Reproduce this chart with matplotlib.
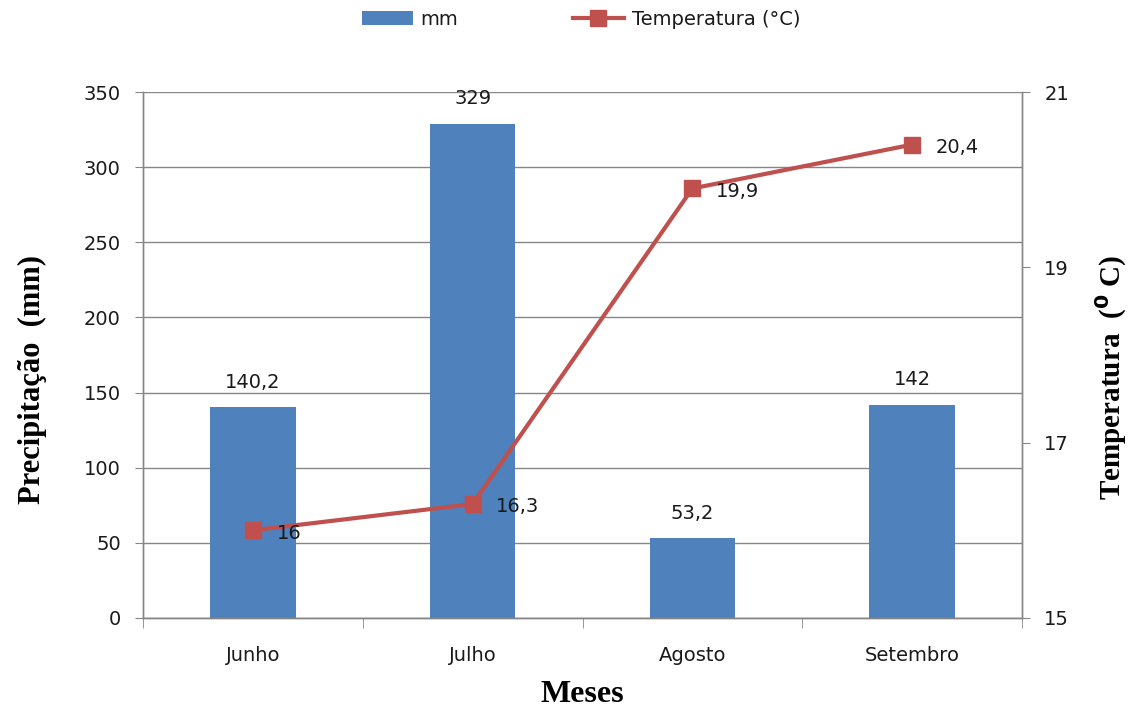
import matplotlib
matplotlib.use("Agg")
import matplotlib.pyplot as plt
from matplotlib.ticker import FixedLocator, NullFormatter
import numpy as np

months = ["Junho", "Julho", "Agosto", "Setembro"]
rain_mm = [140.2, 329, 53.2, 142]
temp_c = [16, 16.3, 19.9, 20.4]
rain_labels = ["140,2", "329", "53,2", "142"]
temp_labels = ["16", "16,3", "19,9", "20,4"]
left_ticks = [0, 50, 100, 150, 200, 250, 300, 350]
right_ticks = [15, 17, 19, 21]

bar_color = "#4F81BD"
line_color = "#C0504D"
axis_gray = "#868686"
text_color = "#1a1a1a"
sans = ["DejaVu Sans"]
serif = ["Liberation Serif", "DejaVu Serif"]
fs = 14

W, H = 1145, 715
fig = plt.figure(figsize=(W / 100, H / 100), dpi=100)
ax = fig.add_axes([0.1249, 0.1357, 0.8926 - 0.1249, 0.8713 - 0.1357])
ax2 = ax.twinx()

x = np.arange(len(months))
bars = ax.bar(x, rain_mm, width=0.39, color=bar_color, zorder=2, label="mm")
ax.set_xlim(-0.5, len(months) - 0.5)
ax.set_ylim(0, 350)
ax.set_yticks(left_ticks)
ax.set_yticklabels([str(v) for v in left_ticks], fontsize=fs, family=sans,
                   color=text_color)
ax.yaxis.grid(True, color=axis_gray, linewidth=1, zorder=0)
ax.set_axisbelow(True)

ax.set_xticks(x)
ax.set_xticklabels(months, fontsize=fs, family=sans, color=text_color)
ax.tick_params(axis="x", which="major", length=0, pad=20)
ax.xaxis.set_minor_locator(FixedLocator(np.arange(-0.5, len(months), 1.0)))
ax.xaxis.set_minor_formatter(NullFormatter())
ax.tick_params(axis="x", which="minor", length=7, color=axis_gray, direction="out")
ax.tick_params(axis="y", length=6, color=axis_gray, direction="out", pad=10)

for b, lab in zip(bars, rain_labels):
    ax.annotate(lab, (b.get_x() + b.get_width() / 2, b.get_height()),
                xytext=(0, 11), textcoords="offset points",
                ha="center", va="bottom", fontsize=fs, family=sans,
                color=text_color)

line, = ax2.plot(x, temp_c, color=line_color, linewidth=3, marker="s",
                 markersize=12, zorder=3, label="Temperatura (°C)")
ax2.set_ylim(15, 21)
ax2.set_yticks(right_ticks)
ax2.set_yticklabels([str(v) for v in right_ticks], fontsize=fs, family=sans,
                    color=text_color)
ax2.tick_params(axis="y", length=6, color=axis_gray, direction="out", pad=10)

for xi, yi, lab in zip(x, temp_c, temp_labels):
    ax2.annotate(lab, (xi, yi), xytext=(17, -2), textcoords="offset points",
                 ha="left", va="center", fontsize=fs, family=sans,
                 color=text_color)

for a in (ax, ax2):
    a.spines["top"].set_visible(False)
    for s in ("left", "right", "bottom"):
        a.spines[s].set_color(axis_gray)
        a.spines[s].set_linewidth(1)

# axis titles placed in figure pixel coordinates
fig.text(32 / W, 1 - 380 / H, "Precipitação  (mm)", rotation=90, ha="center",
         va="center", fontsize=22, fontweight="bold", family=serif)
fig.text(582 / W, 1 - 694 / H, "Meses", ha="center", va="center",
         fontsize=23, fontweight="bold", family=serif)
fig.text(1111 / W, 1 - 378 / H, "Temperatura  ($\\mathbf{^0}$ C)", rotation=90,
         ha="center", va="center", fontsize=21, fontweight="bold", family=serif)

fig.legend(handles=[bars, line], labels=["mm", "Temperatura (°C)"],
           loc="center", bbox_to_anchor=(0.5076, 0.973), ncol=2, frameon=False,
           prop={"family": sans, "size": fs}, columnspacing=5.9,
           handlelength=2.6, handletextpad=0.4, labelcolor=text_color)

fig.savefig("out.png", dpi=100, facecolor="white")
